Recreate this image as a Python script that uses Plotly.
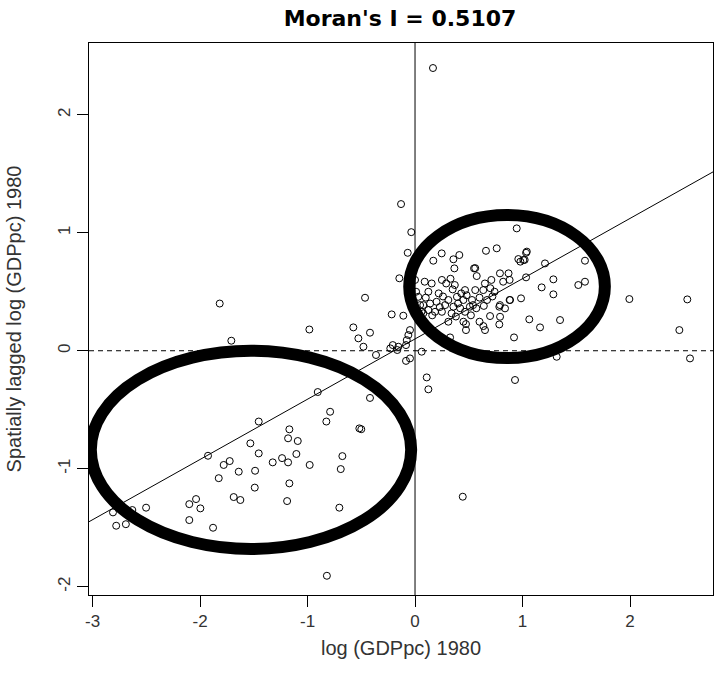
import plotly.graph_objects as go

# ---- data ----
x_vals = [
    -1.817, -0.983, -1.709, -0.13, -0.035, -0.068, -0.465, -0.574, -0.419, -0.527,
    -0.48, -0.217, -0.109, -0.146, -0.207, -0.165, -0.084, -0.062, -0.077, -0.047,
    -0.23, -0.155, -0.363,
    -0.905, -1.454, -1.926, -1.532, -1.454, -1.169, -1.181, -1.091, -1.104, -1.237,
    -1.181, -1.324, -0.98, -1.724, -1.78, -1.64, -1.488, -1.826, -1.169, -1.491,
    -1.687, -1.625, -1.19, -2.037, -2.1, -1.997, -2.502, -2.81, -2.63, -2.1,
    -1.879, -2.78, -2.69, -0.82, -0.825, -0.79, -0.518, -0.50, -0.419, -0.676,
    -0.691, -0.704, -0.084, -0.047,
    0.109, 0.124, 0.444, 0.062, 0.93, 1.318, 2.558,
    0.167, 0.946, 0.66, 0.76, 0.17, 0.248, 0.357, 0.412, 0.366, 0.549,
    0.574, 0.961, 1.033, 1.008, 0.98, 1.209, 1.581, 1.287, 1.581, 1.519,
    1.178, 1.287, 1.033, 0.986, 0.884, 0.837, 0.784, 0.791, 0.698, 0.784,
    1.063, 1.349, 1.163, 0.921, 0.636, 0.651, 0.474, 0.474, 0.326, 1.994,
    2.533, 2.459,
    0.09, 0.155, 0.25, 0.33, 0.29, 0.22, 0.124, 0.03, 0.465, 0.56,
    0.20, 0.14, 0.077, 0.31, 0.39, 0.45, 0.53, 0.28, 0.357, 0.42,
    0.51, 0.57, 0.186, 0.25, 0.124, 0.34, 0.06, 0.465, 0.31, 0.45,
    0.60, 0.37, 0.43, 1.04, 1.02, 0.56, 0.79, 0.87, 0.71, 0.65,
    0.82, 0.88, 0.635, 0.70, 0.67, 0.79, 0.88, 0.54, 0.047, 0.077,
    0.0, 0.02, 0.01, 0.10, 0.26, 0.35, 0.48, 0.40, 0.23, 0.16,
    0.38, 0.52, 0.60, 0.64, 0.72, 0.74,
]
y_vals = [
    0.40, 0.18, 0.085, 1.243, 1.005, 0.83, 0.449, 0.198, 0.153, 0.105,
    0.034, 0.308, 0.297, 0.614, 0.048, 0.006, 0.048, 0.133, 0.09, 0.175,
    0.02, 0.034, -0.036,
    -0.35, -0.60, -0.89, -0.785, -0.87, -0.666, -0.742, -0.765, -0.875, -0.91,
    -0.946, -0.946, -0.968, -0.935, -0.968, -1.025, -1.017, -1.08, -1.124, -1.16,
    -1.24, -1.265, -1.274, -1.257, -1.30, -1.336, -1.33, -1.37, -1.35, -1.435,
    -1.50, -1.483, -1.47, -1.907, -0.60, -0.517, -0.658, -0.665, -0.40, -0.893,
    -1.003, -1.33, -0.086, -0.065,
    -0.226, -0.327, -1.237, -0.008, -0.248, -0.051, -0.065,
    2.396, 1.037, 0.847, 0.868, 0.763, 0.825, 0.775, 0.811, 0.698, 0.698,
    0.633, 0.777, 0.83, 0.769, 0.755, 0.74, 0.763, 0.605, 0.585, 0.557,
    0.537, 0.478, 0.622, 0.444, 0.43, 0.359, 0.373, 0.288, 0.294, 0.223,
    0.266, 0.26, 0.198, 0.113, 0.209, 0.175, 0.226, 0.175, 0.113, 0.438,
    0.435, 0.175,
    0.585, 0.57, 0.60, 0.61, 0.57, 0.486, 0.50, 0.457, 0.514, 0.514,
    0.415, 0.40, 0.387, 0.43, 0.457, 0.43, 0.43, 0.387, 0.373, 0.36,
    0.373, 0.36, 0.33, 0.33, 0.345, 0.317, 0.33, 0.33, 0.246, 0.246,
    0.246, 0.557, 0.486, 0.84, 0.77, 0.70, 0.656, 0.656, 0.60, 0.57,
    0.585, 0.60, 0.514, 0.53, 0.43, 0.387, 0.43, 0.387, 0.387, 0.317,
    0.60, 0.28, 0.50, 0.45, 0.46, 0.52, 0.47, 0.40, 0.37, 0.30,
    0.29, 0.30, 0.45, 0.38, 0.46, 0.50,
]

moran_slope = 0.5107
fit_intercept = 0.10
title_text = "Moran's I = 0.5107"
x_label = "log (GDPpc) 1980"
y_label = "Spatially lagged log (GDPpc) 1980"
x_ticks = [-3, -2, -1, 0, 1, 2]
x_tick_text = ["-3", "-2", "-1", "0", "1", "2"]
y_ticks = [-2, -1, 0, 1, 2]
y_tick_text = ["-2", "-1", "0", "1", "2"]
x_range = [-3.033, 2.772]
y_range = [-2.07, 2.608]

# highlight ellipses: centre x, centre y, half-width, half-height
ellipse_cx = [-1.526, 0.856]
ellipse_cy = [-0.84, 0.544]
ellipse_rx = [1.49, 0.91]
ellipse_ry = [0.84, 0.606]

fig = go.Figure()

# regression line
lx = [x_range[0], x_range[1]]
ly = [fit_intercept + moran_slope * v for v in lx]
fig.add_trace(go.Scatter(x=lx, y=ly, mode="lines",
                         line=dict(color="black", width=1), hoverinfo="skip",
                         showlegend=False))

fig.add_trace(go.Scatter(x=x_vals, y=y_vals, mode="markers",
                         marker=dict(symbol="circle-open", size=7,
                                     color="black", line=dict(width=1)),
                         showlegend=False))

shapes = [
    dict(type="line", xref="x", yref="paper", x0=0, x1=0, y0=0, y1=1,
         line=dict(color="black", width=1)),
    dict(type="line", xref="paper", yref="y", x0=0, x1=1, y0=0, y1=0,
         line=dict(color="black", width=1, dash="5px,4px")),
]
for cx, cy, rx, ry in zip(ellipse_cx, ellipse_cy, ellipse_rx, ellipse_ry):
    shapes.append(dict(type="circle", xref="x", yref="y",
                       x0=cx - rx, x1=cx + rx, y0=cy - ry, y1=cy + ry,
                       line=dict(color="black", width=12)))

fig.update_layout(
    width=715, height=687,
    margin=dict(l=89, r=2, t=43, b=92, autoexpand=False),
    paper_bgcolor="white", plot_bgcolor="white",
    shapes=shapes,
    title=dict(text="<b>" + title_text + "</b>", x=400 / 715, xanchor="center",
               y=1 - 18 / 687, yanchor="middle",
               font=dict(family="DejaVu Sans", size=22, color="black")),
    font=dict(family="Liberation Sans", size=17, color="#333333"),
)
fig.update_xaxes(range=x_range, tickvals=x_ticks, ticktext=x_tick_text,
                 ticks="outside", ticklen=11,
                 tickcolor="black", showgrid=False, zeroline=False,
                 showline=True, linecolor="black", linewidth=1, mirror=True,
                 automargin=False,
                 title=dict(text=x_label, standoff=10),
                 tickfont=dict(size=17, color="#333333"))
fig.update_yaxes(range=y_range, tickvals=y_ticks, ticktext=y_tick_text,
                 ticks="outside", ticklen=11,
                 tickcolor="black", showgrid=False, zeroline=False,
                 showline=True, linecolor="black", linewidth=1, mirror=True,
                 tickangle=-90, automargin=False,
                 title=dict(text=y_label, standoff=28),
                 tickfont=dict(size=17, color="#333333"))

fig.write_html(
    "out.html",
    config={"displayModeBar": False},
    post_script="document.body.style.margin='0';document.body.style.overflow='hidden';",
)
